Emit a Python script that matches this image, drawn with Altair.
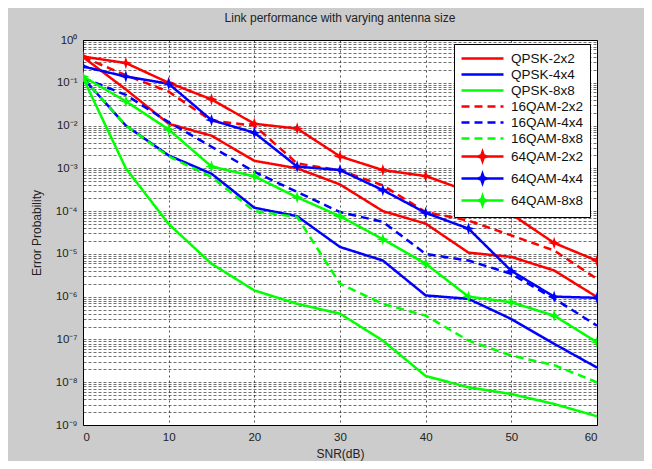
import json
import altair as alt
import pandas as pd

# ---------------- data ----------------
snr = [0, 5, 10, 15, 20, 25, 30, 35, 40, 45, 50, 55, 60]

series = ["QPSK-2x2", "QPSK-4x4", "QPSK-8x8",
          "16QAM-2x2", "16QAM-4x4", "16QAM-8x8",
          "64QAM-2x2", "64QAM-4x4", "64QAM-8x8"]

qpsk_2x2 = [0.40, 0.07, 0.011, 0.0058, 0.0015, 1.0e-3, 4.2e-4, 1.0e-4, 5.1e-5, 1.07e-5, 8.5e-6, 4.1e-6, 9.8e-7]
qpsk_4x4 = [0.13, 0.010, 0.002, 7.5e-4, 1.2e-4, 7.6e-5, 1.45e-5, 7.0e-6, 1.07e-6, 8.9e-7, 3.0e-7, 7.9e-8, 2.2e-8]
qpsk_8x8 = [0.13, 1.0e-3, 5.0e-5, 5.9e-6, 1.4e-6, 6.8e-7, 4.0e-7, 9.4e-8, 1.4e-8, 7.6e-9, 5.3e-9, 3.1e-9, 1.6e-9]
qam16_2x2 = [0.40, 0.15, 0.062, 0.013, 0.010, 0.0013, 9.0e-4, 4.0e-4, 9.5e-5, 6.0e-5, 2.7e-5, 1.2e-5, 2.6e-6]
qam16_4x4 = [0.13, 0.052, 0.012, 0.0032, 8.3e-4, 2.8e-4, 9.5e-5, 5.6e-5, 1.0e-5, 7.0e-6, 3.4e-6, 9.0e-7, 2.1e-7]
qam16_8x8 = [0.13, 0.010, 0.0019, 6.3e-4, 1.0e-4, 7.3e-5, 2.0e-6, 6.8e-7, 3.6e-7, 9.4e-8, 4.2e-8, 2.5e-8, 1.0e-8]
qam64_2x2 = [0.41, 0.29, 0.10, 0.041, 0.011, 0.0085, 0.0019, 9.1e-4, 6.6e-4, 2.9e-4, 8.5e-5, 1.8e-5, 6.9e-6]
qam64_4x4 = [0.24, 0.14, 0.095, 0.0134, 0.0068, 0.0011, 9.1e-4, 3.1e-4, 9.1e-5, 3.9e-5, 4.0e-6, 1.0e-6, 9.4e-7]
qam64_8x8 = [0.14, 0.037, 0.0081, 0.0011, 6.5e-4, 2.1e-4, 7.6e-5, 2.2e-5, 5.9e-6, 1.0e-6, 7.4e-7, 3.6e-7, 8.6e-8]

values = [qpsk_2x2, qpsk_4x4, qpsk_8x8, qam16_2x2, qam16_4x4, qam16_8x8,
          qam64_2x2, qam64_4x4, qam64_8x8]

x_ticks = [0, 10, 20, 30, 40, 50, 60]
decades = list(range(0, -10, -1))

# ---------------- styles ----------------
colors = ["#ff0000", "#0000ff", "#00ff00"] * 3
dashes = [[1, 0]] * 3 + [[8, 5]] * 3 + [[1, 0]] * 3
FONT = "Liberation Sans"

rows = []
for name, vals in zip(series, values):
    for x, v in zip(snr, vals):
        rows.append({"snr": x, "p": v, "series": name})
df = pd.DataFrame(rows)

# y grid at every 1..9 x 10^k, labels only on decades
y_grid = [m * 10.0 ** e for e in range(-9, 0) for m in range(1, 10)] + [1.0]
sup = {"0": "\u2070", "1": "\u00b9", "2": "\u00b2", "3": "\u00b3", "4": "\u2074",
       "5": "\u2075", "6": "\u2076", "7": "\u2077", "8": "\u2078", "9": "\u2079", "-": "\u207b"}
dec_labels = ["10" + "".join(sup[c] for c in str(e)) for e in decades]
lg = "(log(datum.value)/LN10)"
y_label_expr = (f"abs({lg} - round({lg})) < 0.001 ? "
                f"{json.dumps(dec_labels, ensure_ascii=False)}[-round({lg})] : ''")

star = "M0,-0.9L0.22,-0.22L0.9,0L0.22,0.22L0,0.9L-0.22,0.22L-0.9,0L-0.22,-0.22Z"
# legend symbol: 1 unit = 7 px (symbolSize 196); line spans 42 px starting at the symbol column
leg_line = "M-1,0H5"
leg_star = "M2,-0.66L2.17,-0.17L2.66,0L2.17,0.17L2,0.66L1.83,0.17L1.34,0L1.83,-0.17Z"
leg_shapes = [leg_line] * 6 + [leg_line + leg_star] * 3

color_scale = alt.Scale(domain=series, range=colors)
dash_scale = alt.Scale(domain=series, range=dashes)
shape_scale = alt.Scale(domain=series, range=leg_shapes)

legend = alt.Legend(
    title=None, orient="none", legendX=371, legendY=4,
    fillColor="white", strokeColor="black", padding=6,
    labelFont=FONT, labelFontSize=13.5, labelColor="#111",
    labelOffset=34, rowPadding=1.0,
    symbolSize=196, symbolStrokeWidth=2.5,
)

x_enc = alt.X("snr:Q", scale=alt.Scale(domain=[0, 60], nice=False),
              axis=alt.Axis(values=x_ticks, title="SNR(dB)", ticks=False, labelPadding=6,
                            titlePadding=6, gridDash=[2, 3], gridColor="#000", gridOpacity=0.85,
                            gridWidth=0.8))
y_enc = alt.Y("p:Q", scale=alt.Scale(type="log", domain=[1e-9, 1], nice=False),
              axis=alt.Axis(values=y_grid, labelExpr=y_label_expr, title="Error Probability",
                            ticks=False, labelPadding=6, titlePadding=12, gridDash=[3, 2],
                            gridColor="#000", gridOpacity=0.7, gridWidth=0.8))

base = alt.Chart(df)

lines = base.mark_line(strokeWidth=2.5, clip=True).encode(
    x=x_enc, y=y_enc,
    color=alt.Color("series:N", scale=color_scale, legend=legend),
    strokeDash=alt.StrokeDash("series:N", scale=dash_scale, legend=legend),
    order="snr:Q",
)

points = base.transform_filter("indexof(datum.series, '64QAM') == 0").mark_point(
    filled=True, shape=star, size=190, opacity=1, clip=True
).encode(
    x=x_enc, y=y_enc,
    color=alt.Color("series:N", scale=color_scale, legend=legend),
)

# legend-only layer (no rows drawn): line symbol, with a star for the 64QAM entries
legend_layer = base.transform_filter("false").mark_point(
    filled=False, strokeWidth=2.5, opacity=1
).encode(
    x=x_enc, y=y_enc,
    color=alt.Color("series:N", scale=color_scale, legend=legend),
    strokeDash=alt.StrokeDash("series:N", scale=dash_scale, legend=legend),
    shape=alt.Shape("series:N", scale=shape_scale, legend=legend),
)

chart = alt.layer(lines, points, legend_layer).properties(
    width=514, height=385,
    title=alt.TitleParams("Link performance with varying antenna size", font=FONT,
                          fontSize=12, fontWeight="normal", color="#222", offset=9),
    autosize=alt.AutoSizeParams(type="none"),
    padding={"left": 75, "top": 32, "right": 47, "bottom": 36},
    background="#cccccc",
).configure_view(
    fill="white", stroke="black", strokeWidth=1,
).configure_axis(
    labelFont=FONT, labelFontSize=11.5, labelColor="#222",
    titleFont=FONT, titleFontSize=12, titleFontWeight="normal", titleColor="#222",
    domain=False,
)

chart.save("out.html", embed_options={"renderer": "svg", "actions": False})
